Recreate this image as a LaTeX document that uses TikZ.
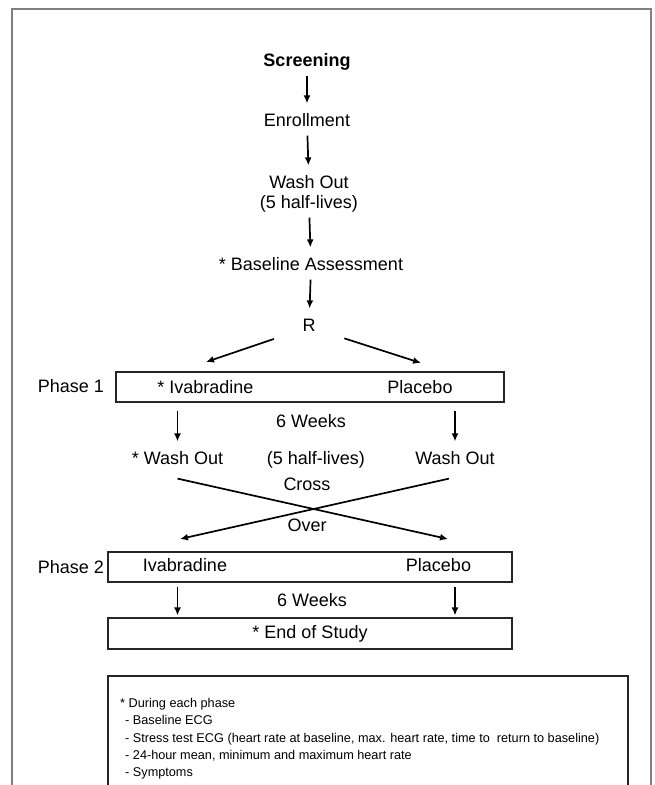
\documentclass[tikz,border=0pt]{standalone}
\usepackage{fontspec}
\setmainfont{Liberation Sans}
\usetikzlibrary{arrows, arrows.meta, calc, positioning}

\begin{document}
\begin{tikzpicture}[x=1pt, y=-1pt, >={Latex[length=8pt, width=7pt]},
    every node/.style={font=\fontsize{18}{20}\selectfont},
    txt/.style={text height=12.9pt, text depth=3.9pt, inner sep=0pt},
    link/.style={->, line width=1.7pt},
    flow/.style={link, shorten <=5pt, shorten >=10pt},
    phasebox/.style={txt, draw=black!85, line width=1.1pt, minimum height=30pt}]
  \useasboundingbox (0,0) rectangle (654,785);
  \clip (0,0) rectangle (654,785);
  \draw[black!50, line width=2pt] (12,9) rectangle (651,800);

  \node[txt, font=\fontsize{18}{20}\selectfont\bfseries] (screen) at (307,62) {Screening};
  \node[txt] (enrol) at (307,122) {Enrollment};
  \node[txt] (wash) at (309,184) {Wash Out};
  \node[txt] (halfl) at (309,204) {(5 half-lives)};
  \node[txt] (base) at (311,266) {* Baseline Assessment};
  \node[txt] (R) at (309,327) {R};

  \draw[flow] (screen) -- (enrol);
  \draw[flow] (enrol) -- (wash);
  \draw[flow] (halfl) -- (base);
  \draw[flow] (base) -- (R);

  \coordinate (rl) at (206,362);
  \coordinate (rr) at (421,363);
  \draw[link, shorten <=30pt] (R) -- (rl);
  \draw[link, shorten <=30pt] (R) -- (rr);

  % phase 1
  \node[phasebox, minimum width=388pt] (p1) at (310,387) {};
  \node[txt] (lab1) at (71,388) {Phase 1};
  \node[txt] (ivab1) at (205.5,389) {* Ivabradine};
  \node[txt] (plac1) at (420,389) {Placebo};
  \node[txt] (wk1) at (311,423) {6 Weeks};
  \node[txt] (wol) at (177.5,460) {* Wash Out};
  \node[txt] (halfr) at (316,460) {(5 half-lives)};
  \node[txt] (wor) at (455,460) {Wash Out};
  \node[txt] (cross) at (307,486) {Cross};
  \node[txt] (over) at (307,527) {Over};

  \draw[flow, shorten <=8pt] (p1.south -| wol) -- (wol);
  \draw[flow, shorten <=8pt] (p1.south -| wor) -- (wor);

  \coordinate (xl) at (180,539);
  \coordinate (xr) at (448,539);
  \draw[link] ([yshift=-10pt]wol.south) -- (xr);
  \draw[link] ([shift={(-6pt,-10pt)}]wor.south) -- (xl);

  % phase 2
  \node[phasebox, minimum width=404pt] (p2) at (310,567) {};
  \node[txt] (lab2) at (71,569) {Phase 2};
  \node[txt] (ivab2) at (185,567) {Ivabradine};
  \node[txt] (plac2) at (438.5,567) {Placebo};
  \node[txt] (wk2) at (312,602) {6 Weeks};
  \node[phasebox, minimum width=404pt, minimum height=31pt] (end) at (310,633.5) {* End of Study};

  \draw[flow, shorten <=4pt, shorten >=2pt] (p2.south -| wol) -- (end.north -| wol);
  \draw[flow, shorten <=4pt, shorten >=2pt] (p2.south -| wor) -- (end.north -| wor);

  % legend
  \draw[black!85, line width=1.1pt] (108,676) rectangle (628,800);
  \node[anchor=north west, align=left, inner sep=0pt,
    font=\fontsize{12.7}{17.3}\selectfont] (legend) at (120,698)
    {* During each phase\\
     \hspace{5pt}- Baseline ECG\\
     \hspace{5pt}- Stress test ECG (heart rate at baseline, max. heart rate, time to \ return to baseline)\\
     \hspace{5pt}- 24-hour mean, minimum and maximum heart rate\\
     \hspace{5pt}- Symptoms};
\end{tikzpicture}
\end{document}
